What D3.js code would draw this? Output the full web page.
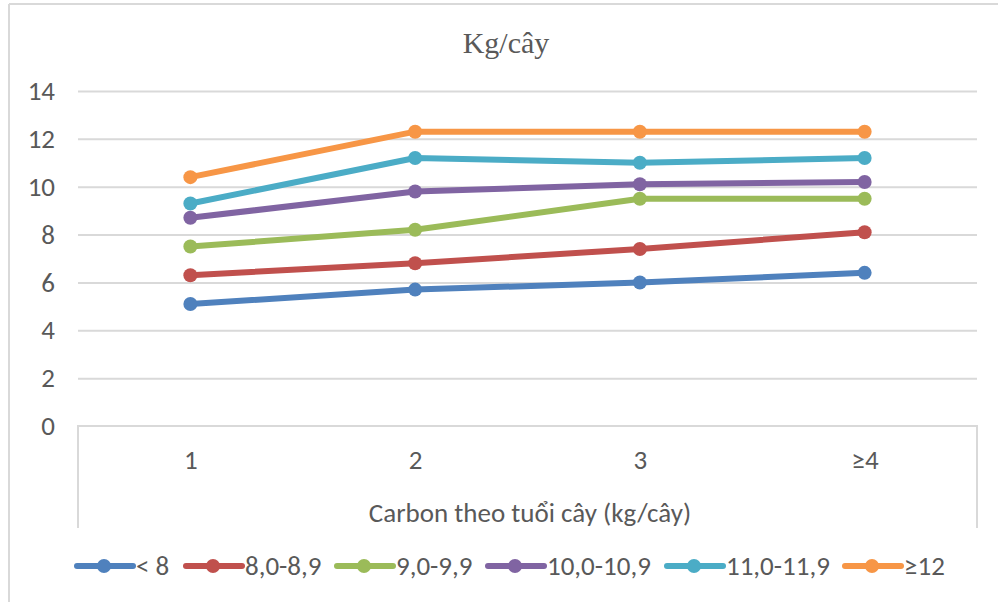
<!DOCTYPE html>
<html>
<head>
<meta charset="utf-8">
<script src="https://cdn.jsdelivr.net/npm/d3@7"></script>
<style>
  html, body { margin: 0; padding: 0; background: #fff; }
  svg { display: block; }
</style>
</head>
<body>
<div id="chart"></div>
<script>
const categories = ["1", "2", "3", "≥4"];
const seriesNames = ["< 8", "8,0-8,9", "9,0-9,9", "10,0-10,9", "11,0-11,9", "≥12"];
const seriesColors = ["#4F81BD", "#C0504D", "#9BBB59", "#8064A2", "#4BACC6", "#F79646"];
const s1 = [5.1, 5.7, 6.0, 6.4];
const s2 = [6.3, 6.8, 7.4, 8.1];
const s3 = [7.5, 8.2, 9.5, 9.5];
const s4 = [8.7, 9.8, 10.1, 10.2];
const s5 = [9.3, 11.2, 11.0, 11.2];
const s6 = [10.4, 12.3, 12.3, 12.3];
const yTicks = [0, 2, 4, 6, 8, 10, 12, 14];
const chartTitle = "Kg/cây";
const xAxisTitle = "Carbon theo tuổi cây (kg/cây)";

const seriesValues = [s1, s2, s3, s4, s5, s6];
const W = 998, H = 602;
const plotL = 78, plotR = 977, plotT = 91, plotB = 426;
const textColor = "#595959", gridColor = "#D9D9D9";
const sansFont = "Carlito, Lato, 'Liberation Sans', sans-serif";
const fs = 27;

const svg = d3.select("#chart").append("svg").attr("width", W).attr("height", H);

// outer chart border (left and top visible)
svg.append("line").attr("x1", 9).attr("x2", 9).attr("y1", 4).attr("y2", H)
  .attr("stroke", gridColor).attr("stroke-width", 2);
svg.append("line").attr("x1", 9).attr("x2", W).attr("y1", 4).attr("y2", 4)
  .attr("stroke", gridColor).attr("stroke-width", 2);

const x = d3.scalePoint().domain(categories).range([plotL, plotR]).padding(0.5);
const y = d3.scaleLinear().domain([0, 14]).range([plotB, plotT]);

// title
svg.append("text").attr("x", 506).attr("y", 53).attr("text-anchor", "middle")
  .attr("font-family", "'Liberation Serif', 'Times New Roman', serif")
  .attr("font-size", 30).attr("fill", textColor).text(chartTitle);

// y axis with gridlines
const yAxis = svg.append("g").attr("transform", `translate(${plotL},0)`)
  .call(d3.axisLeft(y).tickValues(yTicks).tickSize(-(plotR - plotL)).tickPadding(23).tickFormat(d3.format("d")));
yAxis.select(".domain").remove();
yAxis.selectAll(".tick line").attr("stroke", gridColor).attr("stroke-width", 2);
yAxis.selectAll(".tick text").attr("font-family", sansFont).attr("font-size", fs)
  .attr("fill", textColor);
yAxis.selectAll(".tick").filter(d => d === 0).select("line").remove();

// category axis box
const xAxis = svg.append("g").attr("transform", `translate(0,${plotB})`)
  .call(d3.axisBottom(x).tickSize(0).tickPadding(24));
xAxis.select(".domain").remove();
xAxis.selectAll(".tick text").attr("font-family", sansFont).attr("font-size", fs)
  .attr("fill", textColor);
svg.append("path")
  .attr("d", `M${plotL},528 V${plotB} H${plotR} V528`)
  .attr("fill", "none").attr("stroke", gridColor).attr("stroke-width", 2);

// x axis title
svg.append("text").attr("x", 530).attr("y", 522).attr("text-anchor", "middle")
  .attr("font-family", sansFont).attr("font-size", fs).attr("fill", textColor)
  .text(xAxisTitle);

// series
const line = d3.line().x((d, i) => x(categories[i])).y(d => y(d));
seriesValues.forEach((vals, si) => {
  const g = svg.append("g");
  g.append("path").datum(vals).attr("d", line).attr("fill", "none")
    .attr("stroke", seriesColors[si]).attr("stroke-width", 6)
    .attr("stroke-linejoin", "round").attr("stroke-linecap", "round");
  g.selectAll("circle").data(vals).join("circle")
    .attr("cx", (d, i) => x(categories[i])).attr("cy", d => y(d)).attr("r", 7)
    .attr("fill", seriesColors[si]);
});

// legend
const legendX = [77, 186, 337, 488, 667, 845];
const legendY = 566;
seriesNames.forEach((name, si) => {
  const lx = legendX[si];
  const g = svg.append("g");
  g.append("line").attr("x1", lx).attr("x2", lx + 56).attr("y1", legendY).attr("y2", legendY)
    .attr("stroke", seriesColors[si]).attr("stroke-width", 6).attr("stroke-linecap", "round");
  g.append("circle").attr("cx", lx + 27).attr("cy", legendY).attr("r", 7).attr("fill", seriesColors[si]);
  g.append("text").attr("x", lx + 59).attr("y", legendY).attr("dy", "0.35em")
    .attr("font-family", sansFont).attr("font-size", fs).attr("fill", textColor).text(name);
});
</script>
</body>
</html>
